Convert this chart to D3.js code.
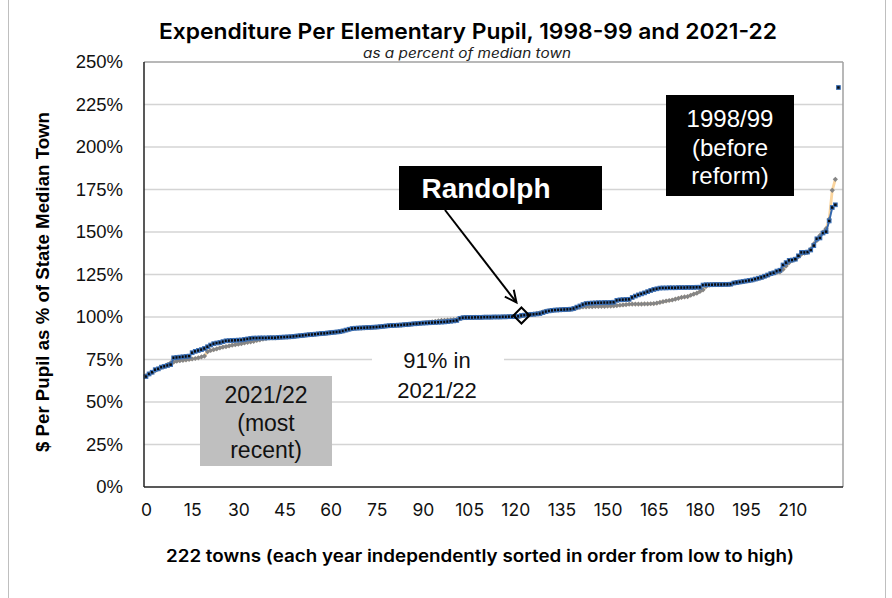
<!DOCTYPE html>
<html><head><meta charset="utf-8">
<script src="https://cdn.jsdelivr.net/npm/d3@7"></script>
<style>body{margin:0;background:#fff}svg{display:block}</style>
</head><body><svg id="c" width="892" height="598"></svg>
<script>
// ---------- data ----------
const yTicks = [0, 25, 50, 75, 100, 125, 150, 175, 200, 225, 250];
const xTicks = [0, 15, 30, 45, 60, 75, 90, 105, 120, 135, 150, 165, 180, 195, 210];

// 1998/99 (before reform) – sorted low to high, % of median town
const series1998 = [
 65.0, 66.5, 67.5, 69.0, 69.5, 70.5, 71.0, 71.5, 72.0, 76.0,
 76.2, 76.4, 76.6, 76.8, 77.0, 79.0, 79.8, 80.3, 80.8, 81.5,
 82.5, 83.5, 84.3, 84.7, 85.0, 85.5, 86.0, 86.1, 86.2, 86.3,
 86.4, 86.5, 86.8, 87.1, 87.4, 87.6, 87.6, 87.7, 87.7, 87.7,
 87.8, 87.8, 87.8, 88.0, 88.1, 88.2, 88.3, 88.4, 88.6, 88.8,
 89.0, 89.2, 89.4, 89.6, 89.7, 89.9, 90.1, 90.3, 90.4, 90.6,
 90.8, 91.0, 91.2, 91.4, 91.8, 92.3, 92.8, 93.2, 93.4, 93.5,
 93.6, 93.7, 93.8, 93.9, 94.0, 94.1, 94.3, 94.5, 94.7, 94.9,
 95.0, 95.1, 95.2, 95.3, 95.5, 95.6, 95.8, 96.0, 96.1, 96.3,
 96.4, 96.5, 96.6, 96.7, 96.8, 96.9, 97.0, 97.1, 97.3, 97.5,
 97.7, 98.0, 99.2, 99.6, 99.7, 99.7, 99.7, 99.8, 99.8, 99.8,
 99.9, 99.9, 99.9, 100.0, 100.0, 100.0, 100.1, 100.1, 100.2, 100.2,
 100.3, 100.4, 100.9, 101.1, 101.3, 101.5, 101.6, 101.8, 102.0, 102.6,
 103.2, 103.6, 103.9, 104.1, 104.2, 104.3, 104.4, 104.5, 104.6, 105.0,
 105.8, 106.5, 107.3, 107.9, 108.1, 108.2, 108.3, 108.4, 108.4, 108.5,
 108.5, 108.6, 108.7, 109.8, 110.1, 110.2, 110.3, 110.4, 111.5, 112.3,
 113.0, 113.6, 114.2, 114.9, 115.6, 116.2, 116.6, 117.0, 117.1, 117.1,
 117.2, 117.2, 117.2, 117.3, 117.3, 117.3, 117.4, 117.4, 117.4, 117.5,
 117.5, 118.8, 119.0, 119.0, 119.0, 119.1, 119.1, 119.1, 119.2, 119.2,
 119.3, 120.0, 120.3, 120.6, 120.9, 121.2, 121.5, 121.8, 122.3, 122.8,
 123.3, 124.0, 124.7, 125.5, 126.0, 127.0, 127.5, 130.6, 132.0, 133.3,
 133.5, 134.0, 136.0, 138.0, 138.0, 138.2, 139.4, 142.0, 146.0, 146.5,
 149.4, 150.2, 156.5, 164.4, 166.0, 235.0
];

// 2021/22 (most recent) – sorted low to high, % of median town
const series2021 = [
 65.5, 66.5, 67.5, 68.5, 69.5, 70.5, 71.0, 72.0, 73.0, 73.5,
 74.0, 74.3, 74.5, 74.8, 75.0, 75.3, 75.6, 76.0, 76.5, 77.0,
 79.6, 80.3, 80.8, 81.3, 81.8, 82.3, 82.6, 83.0, 83.4, 83.7,
 84.0, 84.3, 84.7, 85.1, 85.4, 85.7, 86.2, 86.6, 87.0, 87.3,
 87.6, 87.7, 87.7, 87.9, 88.0, 88.1, 88.2, 88.3, 88.5, 88.7,
 88.9, 89.1, 89.3, 89.5, 89.6, 89.8, 90.0, 90.2, 90.3, 90.5,
 90.7, 90.9, 91.1, 91.3, 91.7, 92.2, 92.7, 93.1, 93.3, 93.4,
 93.5, 93.6, 93.7, 93.8, 93.9, 94.0, 94.2, 94.4, 94.6, 94.8,
 94.9, 95.0, 95.1, 95.2, 95.4, 95.5, 95.7, 95.9, 96.0, 96.3,
 96.5, 96.7, 96.9, 97.1, 97.4, 97.7, 98.0, 98.1, 98.2, 98.3,
 98.4, 98.6, 99.2, 99.5, 99.6, 99.7, 99.7, 99.8, 99.8, 99.8,
 99.9, 99.9, 99.9, 100.0, 100.0, 100.0, 100.1, 100.1, 100.2, 100.2,
 100.3, 100.4, 100.6, 100.9, 101.2, 101.5, 101.8, 102.1, 102.5, 103.0,
 103.4, 103.7, 103.9, 104.0, 104.1, 104.2, 104.3, 104.4, 104.5, 104.8,
 105.3, 105.7, 105.9, 106.0, 106.1, 106.1, 106.2, 106.2, 106.3, 106.3,
 106.4, 106.4, 106.5, 106.7, 106.9, 107.1, 107.3, 107.5, 107.6, 107.6,
 107.6, 107.6, 107.7, 107.7, 107.8, 107.9, 108.2, 108.6, 109.0, 109.4,
 109.7, 110.0, 110.5, 111.0, 111.5, 111.8, 112.0, 112.8, 113.5, 114.0,
 115.0, 116.0, 118.0, 118.8, 119.0, 119.1, 119.1, 119.1, 119.2, 119.2,
 119.3, 119.9, 120.2, 120.5, 120.8, 121.1, 121.4, 121.7, 122.2, 122.7,
 123.2, 123.8, 124.5, 125.2, 125.8, 126.3, 126.5, 128.0, 130.0, 132.0,
 133.3, 134.0, 135.5, 137.0, 137.6, 138.0, 140.0, 143.0, 145.0, 148.0,
 150.0, 152.0, 157.6, 174.5, 181.0
];

const randolphIndex = 122;
const titleText = "Expenditure Per Elementary Pupil, 1998-99 and 2021-22";
const subtitleText = "as a percent of median town";
const xTitleText = "222 towns (each year independently sorted in order from low to high)";
const yTitleText = "$ Per Pupil as % of State Median Town";
const randolphLabel = "Randolph";
const label1998 = ["1998/99", "(before", "reform)"];
const label2021 = ["2021/22", "(most", "recent)"];
const labelMid = ["91% in", "2021/22"];

// ---------- layout ----------
const svg = d3.select("#c");
const P = {l: 144, r: 843, t: 62, b: 487};
const x = d3.scaleLinear().domain([0, 226]).range([146, 841.5]);
const y = d3.scaleLinear().domain([0, 250]).range([P.b, P.t]);
const sans = "'Liberation Sans', Arial, sans-serif";
const geo = "Inter, 'Noto Sans', sans-serif";

function fitLen(sel, w) {
  sel.attr("textLength", w).attr("lengthAdjust", "spacingAndGlyphs");
}

svg.append("rect").attr("width", 892).attr("height", 598).attr("fill", "#fff");
// outer frame
svg.append("rect").attr("x", 8.5).attr("y", -2).attr("width", 877).attr("height", 602)
  .attr("fill", "none").attr("stroke", "#bfbfbf").attr("stroke-width", 1);

// gridlines
svg.append("g").selectAll("line").data(yTicks.filter(d => d > 0 && d < 250)).join("line")
  .attr("x1", P.l).attr("x2", P.r).attr("y1", d => y(d)).attr("y2", d => y(d))
  .attr("stroke", "#d4d4d4").attr("stroke-width", 1.5);

// plot border
svg.append("line").attr("x1", P.l).attr("x2", P.r).attr("y1", P.t).attr("y2", P.t).attr("stroke", "#a0a0a0").attr("stroke-width", 1.5);
svg.append("line").attr("x1", P.r).attr("x2", P.r).attr("y1", P.t).attr("y2", P.b).attr("stroke", "#a0a0a0").attr("stroke-width", 1.5);

// annotation boxes (behind series)
svg.append("rect").attr("x", 372).attr("y", 343).attr("width", 132).attr("height", 58).attr("fill", "#fff");
svg.append("rect").attr("x", 200).attr("y", 376).attr("width", 132).attr("height", 90).attr("fill", "#bfbfbf");
svg.append("rect").attr("x", 666).attr("y", 95).attr("width", 128).attr("height", 101).attr("fill", "#000");
svg.append("rect").attr("x", 399).attr("y", 166).attr("width", 203).attr("height", 44).attr("fill", "#000");

// series 2021/22 (gray diamonds, light orange line)
const line = d3.line().x((d, i) => x(i)).y(d => y(d));
svg.append("path").datum(series2021).attr("d", line).attr("fill", "none")
  .attr("stroke", "#fbd59e").attr("stroke-width", 2.8);
svg.append("g").selectAll("path").data(series2021).join("path")
  .attr("d", (d, i) => { const cx = x(i), cy = y(d), s = 2.6; return `M${cx},${cy - s}L${cx + s},${cy}L${cx},${cy + s}L${cx - s},${cy}Z`; })
  .attr("fill", "#858585");

// series 1998/99 (black squares, blue line); last town shown as a lone marker
svg.append("path").datum(series1998.slice(0, -1)).attr("d", line).attr("fill", "none")
  .attr("stroke", "#3568ad").attr("stroke-width", 2);
svg.append("g").selectAll("rect").data(series1998).join("rect")
  .attr("x", (d, i) => x(i) - 1.8).attr("y", d => y(d) - 1.8)
  .attr("width", 3.6).attr("height", 3.6)
  .attr("fill", "#0a0a0a").attr("stroke", "#3a6fb5").attr("stroke-width", 1.1);

// axes lines
svg.append("line").attr("x1", P.l).attr("x2", P.l).attr("y1", P.t).attr("y2", P.b).attr("stroke", "#222").attr("stroke-width", 1.5);
svg.append("line").attr("x1", P.l).attr("x2", P.r).attr("y1", P.b).attr("y2", P.b).attr("stroke", "#222").attr("stroke-width", 1.5);

// Randolph diamond
const rx = x(randolphIndex), ry = y(series1998[randolphIndex]);
svg.append("path").attr("d", `M${rx},${ry - 8}L${rx + 8},${ry}L${rx},${ry + 8}L${rx - 8},${ry}Z`)
  .attr("fill", "none").attr("stroke", "#000").attr("stroke-width", 2);

// arrow
const ax1 = 445, ay1 = 210, ax2 = rx - 5, ay2 = ry - 13;
svg.append("line").attr("x1", ax1).attr("y1", ay1).attr("x2", ax2).attr("y2", ay2).attr("stroke", "#000").attr("stroke-width", 2);
const ang = Math.atan2(ay2 - ay1, ax2 - ax1), hl = 13, hs = 0.45;
svg.append("path").attr("d",
  `M${ax2 - hl * Math.cos(ang - hs)},${ay2 - hl * Math.sin(ang - hs)}L${ax2},${ay2}L${ax2 - hl * Math.cos(ang + hs)},${ay2 - hl * Math.sin(ang + hs)}`)
  .attr("fill", "none").attr("stroke", "#000").attr("stroke-width", 2);

// axes
const yAxis = svg.append("g").attr("transform", `translate(${P.l},0)`)
  .call(d3.axisLeft(y).tickValues(yTicks).tickSize(0).tickPadding(21).tickFormat(d => d + "%"));
yAxis.select(".domain").remove();
yAxis.selectAll("text").attr("font-family", sans).attr("font-size", 18.5).attr("fill", "#111");

const xAxis = svg.append("g").attr("transform", `translate(0,${P.b})`)
  .call(d3.axisBottom(x).tickValues(xTicks).tickSize(0).tickPadding(17).tickFormat(d3.format("d")));
xAxis.select(".domain").remove();
xAxis.selectAll("text").attr("font-family", geo).attr("font-size", 17.5).attr("fill", "#111");

// titles
const t = svg.append("text").attr("x", 468).attr("y", 39).attr("text-anchor", "middle")
  .attr("font-family", geo).attr("font-weight", 600).attr("font-size", 22).attr("fill", "#000").text(titleText);
fitLen(t, 618);
const st = svg.append("text").attr("x", 467).attr("y", 58).attr("text-anchor", "middle")
  .attr("font-family", geo).attr("font-style", "italic").attr("font-size", 13.5).attr("fill", "#222").text(subtitleText);
fitLen(st, 208);
const xt = svg.append("text").attr("x", 480).attr("y", 562).attr("text-anchor", "middle")
  .attr("font-family", geo).attr("font-weight", 600).attr("font-size", 17).attr("fill", "#000").text(xTitleText);
fitLen(xt, 628);
const yt = svg.append("text").attr("transform", "translate(49,282) rotate(-90)").attr("text-anchor", "middle")
  .attr("font-family", sans).attr("font-weight", 700).attr("font-size", 18).attr("fill", "#000").text(yTitleText);
fitLen(yt, 340);

// annotation texts
svg.append("text").attr("x", 486).attr("y", 198).attr("text-anchor", "middle")
  .attr("font-family", sans).attr("font-weight", 700).attr("font-size", 28).attr("fill", "#fff").text(randolphLabel);
svg.append("g").selectAll("text").data(label1998).join("text")
  .attr("x", 730).attr("y", (d, i) => 127 + i * 28.5).attr("text-anchor", "middle")
  .attr("font-family", sans).attr("font-size", 24).attr("fill", "#fff").text(d => d);
svg.append("g").selectAll("text").data(label2021).join("text")
  .attr("x", 266).attr("y", (d, i) => 403 + i * 27.5).attr("text-anchor", "middle")
  .attr("font-family", sans).attr("font-size", 23).attr("fill", "#111").text(d => d);
svg.append("g").selectAll("text").data(labelMid).join("text")
  .attr("x", 437).attr("y", (d, i) => 368 + i * 30).attr("text-anchor", "middle")
  .attr("font-family", sans).attr("font-size", 22).attr("fill", "#111").text(d => d);
</script>
</body></html>
